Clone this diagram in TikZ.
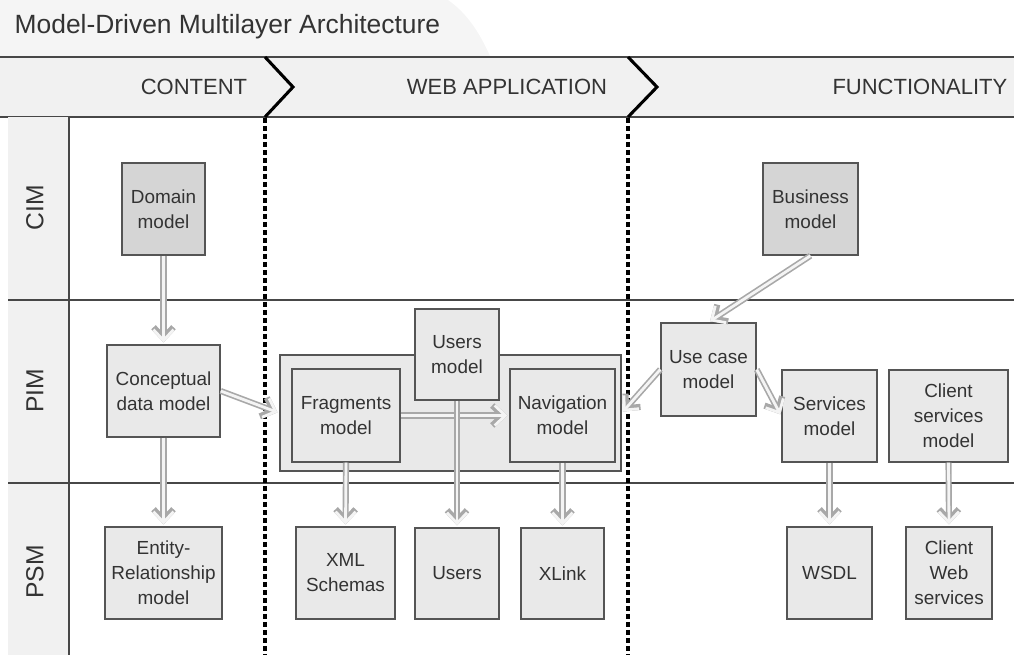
\documentclass[tikz,border=0pt]{standalone}
\usepackage{fontspec}
\setmainfont{Liberation Sans}
\usetikzlibrary{arrows.meta}

\definecolor{bandgray}{HTML}{F1F1F1}
\definecolor{boxlight}{HTML}{E9E9E9}
\definecolor{boxdark}{HTML}{D5D5D5}
\definecolor{edgegray}{HTML}{555555}
\definecolor{flowgray}{HTML}{A8A8A8}
\definecolor{flowfill}{HTML}{F4F4F4}
\definecolor{inkgray}{HTML}{333333}

\begin{document}
\begin{tikzpicture}[x=0.75pt,y=0.75pt,yscale=-1,xscale=1,
  mbox/.style 2 args={draw=edgegray, line width=1.1pt, fill=boxlight, align=center, text=inkgray,
    font=\fontsize{14.2}{18.75}\selectfont, inner sep=0pt,
    minimum width=#1*0.75pt, minimum height=#2*0.75pt},
  cimbox/.style={fill=boxdark},
  flow/.style={draw=flowfill, line width=2.1pt, shorten >=1.4pt,
    -{Straight Barb[length=8pt, width=15pt]},
    preaction={draw=flowgray, line width=4.6pt, -{Straight Barb[length=8pt, width=15pt]}}},
  sepline/.style={draw=black, line width=2.6pt, dash pattern=on 3.8pt off 2.2pt},
  rowline/.style={draw=black!72, line width=1.4pt},
  lane/.style={text=inkgray, font=\fontsize{16.5}{20}\selectfont},
  layer/.style={text=inkgray, font=\fontsize{18.5}{22}\selectfont, rotate=90}]
\useasboundingbox (0,0) rectangle (1014,655);

%Shape: title area
\fill[black!4] (0,0) -- (448,0) .. controls (468,14) and (480,34) .. (490,56) -- (0,56) -- cycle;
\node[anchor=base west, text=inkgray, font=\fontsize{19.8}{23}\selectfont] (title) at (10,34) {Model-Driven Multilayer Architecture};

%Shape: lane header
\fill[bandgray] (0,57) rectangle (1014,117);
\draw[rowline] (0,57) -- (1014,57);
\draw[rowline] (0,117) -- (1014,117);
\draw[line width=2.3pt] (265,57) -- (293,87) -- (265,117);
\draw[line width=2.3pt] (628,57) -- (657,87) -- (628,117);
\node[lane] (content) at (194,87) {CONTENT};
\node[lane] (webapp) at (507,87) {WEB APPLICATION};
\node[lane, anchor=east] (functionality) at (1012,87) {FUNCTIONALITY};

%Shape: layer column
\fill[bandgray] (8,117) rectangle (69,655);
\draw[draw=black!72, line width=1.1pt] (69,117) -- (69,655);
\draw[rowline] (8,300) -- (1014,300);
\draw[rowline] (8,483) -- (1014,483);
\node[layer] (cim) at (35,208) {CIM};
\node[layer] (pim) at (35,391) {PIM};
\node[layer] (psm) at (35,572) {PSM};

%Shape: lane separators
\draw[sepline] (265,118) -- (265,655);
\draw[sepline] (628,118) -- (628,655);

%CIM
\node[mbox={83}{92}, cimbox] (dom) at (163.5,209) {Domain\\model};
\node[mbox={95}{92}, cimbox] (bus) at (810.5,209) {Business\\model};

%PIM
\node[mbox={113}{92}] (con) at (163.5,391) {Conceptual\\data model};
\node[mbox={341}{116}] (grp) at (450.5,413) {};
\node[mbox={108}{93}] (frag) at (346,415.5) {Fragments\\model};
\node[mbox={84}{91}] (usr) at (457,354.5) {Users\\model};
\node[mbox={105}{93}] (nav) at (562.5,415.5) {Navigation\\model};
\node[mbox={95}{93}] (uc) at (708.5,369.5) {Use case\\model};
\node[mbox={95}{92}] (srv) at (829.5,416) {Services\\model};
\node[mbox={119}{92}] (csr) at (948.5,416) {Client\\services\\model};

%PSM
\node[mbox={117}{92}] (er) at (163.5,573) {Entity-\\Relationship\\model};
\node[mbox={99}{92}] (xml) at (345.5,573) {XML\\Schemas};
\node[mbox={84}{91}] (usp) at (457,573.5) {Users};
\node[mbox={83}{91}] (xl) at (562.5,573.5) {XLink};
\node[mbox={85}{92}] (wsdl) at (829.5,573) {WSDL};
\node[mbox={86}{92}] (cws) at (949,573) {Client\\Web\\services};

%Connectors
\draw[flow] (dom.south) -- (con.north);
\draw[flow] (con.east) -- (grp.west);
\draw[flow] (frag.east) -- (nav.west);
\draw[flow] (bus.south) -- (uc.north);
\draw[flow] (uc.west) -- (grp.east);
\draw[flow] (uc.east) -- (srv.west);
\draw[flow] (con.south) -- (er.north);
\draw[flow] (frag.south) -- (xml.north);
\draw[flow] (usr.south) -- (usp.north);
\draw[flow] (nav.south) -- (xl.north);
\draw[flow] (srv.south) -- (wsdl.north);
\draw[flow] (csr.south) -- (cws.north);

\end{tikzpicture}
\end{document}
